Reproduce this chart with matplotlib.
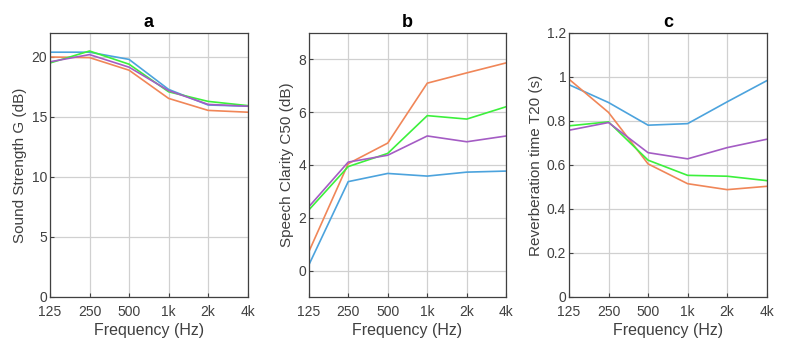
import numpy as np
import matplotlib.pyplot as plt

plt.rcParams['font.family'] = ['Liberation Sans', 'DejaVu Sans']

# Octave band centre frequencies
freqs = [125, 250, 500, 1000, 2000, 4000]
freq_labels = ['125', '250', '500', '1k', '2k', '4k']

# Sound strength G (dB)
g_blue = [20.4, 20.4, 19.8, 17.3, 16.0, 15.9]
g_orange = [20.0, 19.95, 18.9, 16.55, 15.55, 15.4]
g_green = [19.5, 20.5, 19.4, 17.1, 16.3, 15.95]
g_purple = [19.6, 20.2, 19.15, 17.2, 16.05, 15.9]

# Speech clarity C50 (dB)
c50_blue = [0.2, 3.37, 3.68, 3.58, 3.73, 3.77]
c50_orange = [0.7, 4.05, 4.83, 7.1, 7.49, 7.87]
c50_green = [2.29, 3.94, 4.44, 5.87, 5.74, 6.21]
c50_purple = [2.41, 4.11, 4.37, 5.1, 4.88, 5.1]

# Reverberation time T20 (s)
t20_blue = [0.965, 0.884, 0.781, 0.788, 0.887, 0.983]
t20_orange = [0.99, 0.839, 0.605, 0.515, 0.488, 0.503]
t20_green = [0.778, 0.796, 0.622, 0.553, 0.549, 0.529]
t20_purple = [0.758, 0.793, 0.656, 0.628, 0.679, 0.717]

col_blue = '#4ca3dd'
col_orange = '#f08658'
col_green = '#3cf03c'
col_purple = '#a45cc4'
txt = '#404040'

panels = [
    ('a', 'Sound Strength G (dB)', [g_blue, g_orange, g_green, g_purple], (0, 22), [0, 5, 10, 15, 20], None),
    ('b', 'Speech Clarity C50 (dB)', [c50_blue, c50_orange, c50_green, c50_purple], (-1, 9), [0, 2, 4, 6, 8], None),
    ('c', 'Reverberation time T20 (s)', [t20_blue, t20_orange, t20_green, t20_purple], (0, 1.2),
     [0, 0.2, 0.4, 0.6, 0.8, 1, 1.2], ['0', '0.2', '0.4', '0.6', '0.8', '1', '1.2']),
]
lefts = [0.0636, 0.3927, 0.7239]

fig = plt.figure(figsize=(7.86, 3.47), dpi=100)
x = np.arange(len(freqs))
for left, (title, ylabel, series, ylim, yticks, ylabs) in zip(lefts, panels):
    ax = fig.add_axes([left, 0.1441, 0.2515, 0.7608])
    for ys, c in zip(series, [col_blue, col_orange, col_green, col_purple]):
        ax.plot(x, ys, color=c, lw=1.2)
    ax.set_xlim(0, len(freqs) - 1)
    ax.set_xticks(x)
    ax.set_xticklabels(freq_labels)
    ax.set_ylim(*ylim)
    ax.set_yticks(yticks)
    if ylabs:
        ax.set_yticklabels(ylabs)
    ax.grid(True, color='#d0d0d0', lw=0.9)
    ax.set_axisbelow(True)
    ax.tick_params(direction='in', length=3, labelsize=10, colors='#404040', labelcolor=txt, pad=2)
    ax.tick_params(axis='x', pad=6)
    for s in ax.spines.values():
        s.set_color('#404040')
        s.set_linewidth(0.9)
    ax.set_xlabel('Frequency (Hz)', fontsize=11.5, color=txt, labelpad=3)
    ax.set_ylabel(ylabel, fontsize=11, color=txt, labelpad=3)
    ax.set_title(title, fontsize=13, fontweight='bold', color='black', pad=4)

fig.savefig('out.png', dpi=100)
